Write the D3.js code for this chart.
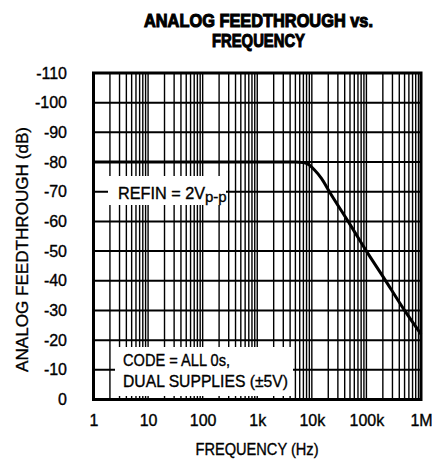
<!DOCTYPE html>
<html>
<head>
<meta charset="utf-8">
<script src="https://cdn.jsdelivr.net/npm/d3@7"></script>
<style>
  body { margin: 0; background: #fff; }
  svg { display: block; }
  text { font-family: "Liberation Sans", Arial, sans-serif; fill: #000; }
</style>
</head>
<body>
<svg id="the-chart"></svg>
<script>
// Data
const freq = [1, 10, 100, 1000, 5000, 7000, 9000, 11000, 15000, 21000, 50000, 100000, 200000, 500000, 1000000];
const feedthrough = [-80, -80, -80, -80, -80, -79.8, -79, -77.5, -74.5, -70, -59, -50, -41.5, -30, -22];

const xTickValues = [1, 10, 100, 1000, 10000, 100000, 1000000];
const xTickLabels = ["1", "10", "100", "1k", "10k", "100k", "1M"];
const yTickValues = [0, -10, -20, -30, -40, -50, -60, -70, -80, -90, -100, -110];

const width = 432;
const height = 460;
const plot = {left: 93.5, right: 421, top: 73, bottom: 399.5};

const x = d3.scaleLog()
    .domain([1, 1e6])
    .range([plot.left, plot.right]);

const y = d3.scaleLinear()
    .domain([0, -110])
    .range([plot.bottom, plot.top]);

const svg = d3.select("#the-chart")
    .attr("width", width)
    .attr("height", height)
    .attr("viewBox", [0, 0, width, height]);

// Title
const title = svg.append("g")
    .attr("text-anchor", "middle")
    .attr("font-weight", "bold")
    .attr("font-size", 19)
    .attr("stroke", "#000")
    .attr("stroke-width", 1.1);
title.append("text")
    .attr("x", 258.5).attr("y", 27)
    .attr("textLength", 229).attr("lengthAdjust", "spacingAndGlyphs")
    .text("ANALOG FEEDTHROUGH vs.");
title.append("text")
    .attr("x", 258.5).attr("y", 47)
    .attr("textLength", 93).attr("lengthAdjust", "spacingAndGlyphs")
    .text("FREQUENCY");

// Grid
const grid = svg.append("g").attr("stroke", "#000");

grid.append("g")
    .attr("stroke-width", 1.4)
    .selectAll()
    .data(x.ticks())
    .join("line")
        .attr("x1", d => x(d)).attr("x2", d => x(d))
        .attr("y1", plot.top).attr("y2", plot.bottom);

grid.append("g")
    .attr("stroke-width", 2)
    .selectAll()
    .data(yTickValues)
    .join("line")
        .attr("x1", plot.left).attr("x2", plot.right)
        .attr("y1", d => y(d)).attr("y2", d => y(d));

// Label boxes knock out the grid
svg.append("rect")
    .attr("x", 108).attr("y", 176).attr("width", 118).attr("height", 29)
    .attr("fill", "#fff");
svg.append("rect")
    .attr("x", 115).attr("y", 347).attr("width", 178).attr("height", 49)
    .attr("fill", "#fff");

// Frame
svg.append("rect")
    .attr("x", plot.left).attr("y", plot.top)
    .attr("width", plot.right - plot.left)
    .attr("height", plot.bottom - plot.top)
    .attr("fill", "none")
    .attr("stroke", "#000")
    .attr("stroke-width", 3);

// Curve
const line = d3.line()
    .x((d, i) => x(freq[i]))
    .y(d => y(d))
    .curve(d3.curveMonotoneX);

svg.append("path")
    .datum(feedthrough)
    .attr("fill", "none")
    .attr("stroke", "#000")
    .attr("stroke-width", 3)
    .attr("d", line);

// Axes
const xAxis = svg.append("g")
    .attr("transform", `translate(0,${plot.bottom})`)
    .call(d3.axisBottom(x)
        .tickValues(xTickValues)
        .tickFormat((d, i) => xTickLabels[i])
        .tickSize(0)
        .tickPadding(15));

const yAxis = svg.append("g")
    .attr("transform", `translate(${plot.left},0)`)
    .call(d3.axisLeft(y)
        .tickValues(yTickValues)
        .tickFormat(d => `${d}`)   // plain hyphen, as in the print
        .tickSize(0)
        .tickPadding(26.5));

[xAxis, yAxis].forEach(a => {
    a.select(".domain").remove();
    a.selectAll("text")
        .attr("font-family", "Liberation Sans, Arial, sans-serif")
        .attr("font-size", 16)
        .attr("fill", "#000")
        .attr("stroke", "#000")
        .attr("stroke-width", 0.35);
});

// Axis titles and annotations share a slightly heavy look
const labels = svg.append("g")
    .attr("stroke", "#000")
    .attr("stroke-width", 0.35);

labels.append("text")
    .attr("x", 257).attr("y", 455)
    .attr("text-anchor", "middle")
    .attr("font-size", 16)
    .attr("textLength", 123).attr("lengthAdjust", "spacingAndGlyphs")
    .text("FREQUENCY (Hz)");

labels.append("text")
    .attr("transform", "translate(28,249.5) rotate(-90)")
    .attr("text-anchor", "middle")
    .attr("font-size", 16.5)
    .attr("textLength", 245).attr("lengthAdjust", "spacingAndGlyphs")
    .text("ANALOG FEEDTHROUGH (dB)");

const refin = labels.append("text")
    .attr("x", 118).attr("y", 199)
    .attr("font-size", 16.5);
refin.append("tspan")
    .attr("textLength", 87).attr("lengthAdjust", "spacingAndGlyphs")
    .text("REFIN = 2V");
refin.append("tspan")
    .attr("dy", 3)
    .attr("font-size", 15)
    .text("p-p");

labels.append("text")
    .attr("x", 123).attr("y", 366)
    .attr("font-size", 16.5)
    .attr("textLength", 107).attr("lengthAdjust", "spacingAndGlyphs")
    .text("CODE = ALL 0s,");
labels.append("text")
    .attr("x", 123).attr("y", 387)
    .attr("font-size", 16.5)
    .attr("textLength", 165).attr("lengthAdjust", "spacingAndGlyphs")
    .text("DUAL SUPPLIES (±5V)");
</script>
</body>
</html>
